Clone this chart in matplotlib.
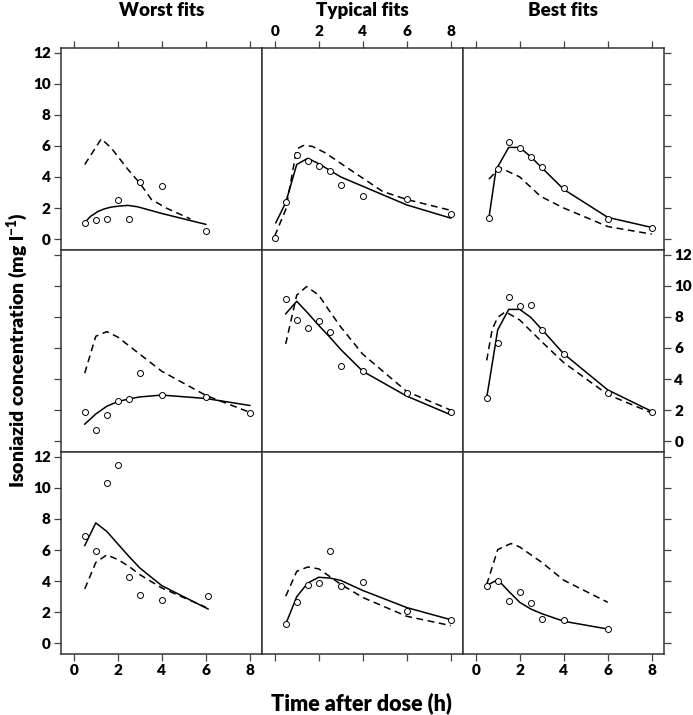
import matplotlib
matplotlib.use("Agg")
import matplotlib.pyplot as plt

plt.rcParams['font.family'] = ['Lato', 'DejaVu Sans']
plt.rcParams['mathtext.fontset'] = 'custom'
plt.rcParams['mathtext.bf'] = 'Lato:heavy'
plt.rcParams['mathtext.rm'] = 'Lato'

col_titles = ["Worst fits", "Typical fits", "Best fits"]
x_ticks = [0, 2, 4, 6, 8]
y_ticks = [0, 2, 4, 6, 8, 10, 12]

# row 1
r1c1_t = [0.5, 1, 1.5, 2, 2.5, 3, 4, 6]
r1c1_obs = [1.05, 1.2, 1.3, 2.5, 1.3, 3.65, 3.4, 0.55]
r1c1_fit_t = [0.5, 0.75, 1.1, 1.4, 1.7, 2.1, 2.47, 2.9, 4, 6]
r1c1_fit = [1.07, 1.45, 1.78, 1.95, 2.06, 2.13, 2.17, 2.08, 1.65, 0.95]
r1c1_pop_t = [0.5, 1.25, 1.7, 2.47, 3, 3.53, 4.2, 5.3]
r1c1_pop = [4.8, 6.45, 5.87, 4.47, 3.6, 2.55, 2.0, 1.3]

r1c2_t = [0, 0.5, 1, 1.5, 2, 2.5, 3, 4, 6, 8]
r1c2_obs = [0.1, 2.4, 5.4, 5.05, 4.7, 4.4, 3.45, 2.75, 2.6, 1.6]
r1c2_fit_t = [0.05, 0.5, 1, 1.5, 2, 3, 4, 6, 8]
r1c2_fit = [1.05, 2.35, 4.8, 5.2, 4.85, 4.0, 3.4, 2.2, 1.35]
r1c2_pop_t = [0, 0.5, 1, 1.3, 1.7, 2.3, 3.2, 4.9, 6, 8]
r1c2_pop = [0.2, 1.9, 5.8, 6.02, 5.97, 5.55, 4.68, 3.07, 2.55, 1.85]

r1c3_t = [0.6, 1, 1.5, 2, 2.5, 3, 4, 6, 8]
r1c3_obs = [1.35, 4.5, 6.25, 5.85, 5.27, 4.63, 3.28, 1.31, 0.71]
r1c3_fit_t = [0.6, 0.92, 1.5, 2, 2.5, 3, 4, 6, 8]
r1c3_fit = [1.35, 4.45, 5.9, 5.9, 5.3, 4.6, 3.2, 1.4, 0.75]
r1c3_pop_t = [0.6, 1.1, 2, 2.95, 4, 6, 8]
r1c3_pop = [3.86, 4.6, 4.0, 2.75, 2.0, 0.81, 0.32]

# row 2
r2c1_t = [0.5, 1, 1.5, 2, 2.5, 3, 4, 6, 8]
r2c1_obs = [1.9, 0.7, 1.67, 2.59, 2.71, 4.4, 2.95, 2.86, 1.79]
r2c1_fit_t = [0.5, 1, 1.5, 2, 2.5, 3, 4, 6, 8]
r2c1_fit = [1.1, 1.75, 2.25, 2.55, 2.72, 2.85, 2.97, 2.75, 2.3]
r2c1_pop_t = [0.5, 1, 1.5, 2, 2.5, 3, 4, 6, 8]
r2c1_pop = [4.38, 6.75, 7.05, 6.7, 6.15, 5.6, 4.5, 2.95, 1.86]

r2c2_t = [0.5, 1, 1.5, 2, 2.5, 3, 4, 6, 8]
r2c2_obs = [9.17, 7.78, 7.29, 7.76, 7.0, 4.85, 4.5, 3.1, 1.86]
r2c2_fit_t = [0.5, 1, 1.5, 2, 2.5, 3, 4, 6, 8]
r2c2_fit = [8.2, 9.0, 8.25, 7.45, 6.7, 5.9, 4.5, 2.9, 1.7]
r2c2_pop_t = [0.5, 1, 1.45, 2, 2.5, 3, 4, 6, 8]
r2c2_pop = [6.26, 9.4, 9.95, 9.4, 8.35, 7.35, 5.6, 3.2, 2.0]

r2c3_t = [0.5, 1, 1.5, 2, 2.5, 3, 4, 6, 8]
r2c3_obs = [2.8, 6.3, 9.25, 8.7, 8.76, 7.18, 5.62, 3.12, 1.9]
r2c3_fit_t = [0.5, 1, 1.5, 2, 2.5, 3, 4, 6, 8]
r2c3_fit = [2.8, 7.16, 8.48, 8.48, 7.97, 7.2, 5.62, 3.3, 1.92]
r2c3_pop_t = [0.5, 0.75, 1.0, 1.35, 2, 3, 4, 6, 8]
r2c3_pop = [5.2, 7.2, 7.97, 8.33, 7.8, 6.4, 5.06, 3.0, 1.82]

# row 3
r3c1_t = [0.5, 1, 1.5, 2, 2.5, 3, 4, 6.1]
r3c1_obs = [6.91, 5.97, 10.34, 11.5, 4.27, 3.09, 2.77, 3.03]
r3c1_fit_t = [0.5, 1, 1.5, 2, 2.5, 3, 4, 6.1]
r3c1_fit = [6.29, 7.75, 7.2, 6.4, 5.6, 4.85, 3.71, 2.21]
r3c1_pop_t = [0.5, 1, 1.5, 2, 2.5, 3, 4, 6]
r3c1_pop = [3.5, 5.2, 5.69, 5.39, 4.96, 4.42, 3.56, 2.32]

r3c2_t = [0.5, 1, 1.5, 2, 2.5, 3, 4, 6, 8]
r3c2_obs = [1.24, 2.64, 3.76, 3.88, 5.97, 3.71, 3.93, 2.1, 1.48]
r3c2_fit_t = [0.5, 1, 1.5, 2, 2.5, 3, 4, 6, 8]
r3c2_fit = [1.24, 3.0, 3.88, 4.25, 4.2, 4.05, 3.4, 2.3, 1.52]
r3c2_pop_t = [0.5, 1, 1.5, 2, 2.5, 3, 4, 6, 8]
r3c2_pop = [3.03, 4.63, 4.91, 4.79, 4.3, 3.8, 2.95, 1.74, 1.14]

r3c3_t = [0.5, 1, 1.5, 2, 2.5, 3, 4, 6]
r3c3_obs = [3.71, 3.99, 2.75, 3.33, 2.62, 1.59, 1.52, 0.92]
r3c3_fit_t = [0.5, 1, 1.5, 2, 2.5, 3, 4, 6]
r3c3_fit = [3.71, 4.1, 3.35, 2.64, 2.21, 1.91, 1.42, 0.92]
r3c3_pop_t = [0.5, 1, 1.6, 2, 3, 4, 6]
r3c3_pop = [3.78, 6.03, 6.42, 6.2, 5.21, 4.06, 2.64]

panels = [
    [(r1c1_t, r1c1_obs, r1c1_fit_t, r1c1_fit, r1c1_pop_t, r1c1_pop),
     (r1c2_t, r1c2_obs, r1c2_fit_t, r1c2_fit, r1c2_pop_t, r1c2_pop),
     (r1c3_t, r1c3_obs, r1c3_fit_t, r1c3_fit, r1c3_pop_t, r1c3_pop)],
    [(r2c1_t, r2c1_obs, r2c1_fit_t, r2c1_fit, r2c1_pop_t, r2c1_pop),
     (r2c2_t, r2c2_obs, r2c2_fit_t, r2c2_fit, r2c2_pop_t, r2c2_pop),
     (r2c3_t, r2c3_obs, r2c3_fit_t, r2c3_fit, r2c3_pop_t, r2c3_pop)],
    [(r3c1_t, r3c1_obs, r3c1_fit_t, r3c1_fit, r3c1_pop_t, r3c1_pop),
     (r3c2_t, r3c2_obs, r3c2_fit_t, r3c2_fit, r3c2_pop_t, r3c2_pop),
     (r3c3_t, r3c3_obs, r3c3_fit_t, r3c3_fit, r3c3_pop_t, r3c3_pop)],
]

fig, axes = plt.subplots(3, 3, figsize=(6.93, 7.15), dpi=100, sharex=True, sharey=True)
fig.subplots_adjust(left=0.088, right=0.958, top=0.933, bottom=0.085, wspace=0, hspace=0)

for r in range(3):
    for c in range(3):
        ax = axes[r, c]
        t, obs, ft, fit, pt, pop = panels[r][c]
        ax.plot(ft, fit, color='black', lw=1.1)
        ax.plot(pt, pop, color='black', lw=1.1, linestyle=(0, (4.5, 3)))
        ax.plot(t, obs, 'o', mfc='white', mec='black', ms=4.3, mew=0.7)

        ax.set_xlim(-0.58, 8.55)
        ax.set_ylim(-0.7, 12.3)
        ax.set_xticks(x_ticks)
        ax.set_yticks(y_ticks)
        for sp in ax.spines.values():
            sp.set_color('#333333')
            sp.set_linewidth(1.1)

        ax.tick_params(direction='out', length=5, width=0.9, color='#444444',
                       top=(r == 0), bottom=(r == 2), left=(c == 0), right=(c == 2),
                       labeltop=(r == 0 and c == 1),
                       labelbottom=(r == 2 and c != 1),
                       labelleft=(c == 0 and r != 1),
                       labelright=(c == 2 and r == 1))
        ax.tick_params(axis='x', pad=2)
        ax.tick_params(axis='y', pad=2.5)
        for lab in ax.get_xticklabels() + ax.get_yticklabels():
            lab.set_fontsize(11)
            lab.set_fontweight('heavy')

# column headings
for c in range(3):
    pos = axes[0, c].get_position()
    fig.text((pos.x0 + pos.x1) / 2, 0.985, col_titles[c], ha='center', va='center',
             fontsize=13.5, fontweight='heavy')

fig.text(0.026, 0.51, "Isoniazid concentration (mg l$^{\\mathbf{-1}}$)", rotation=90,
         ha='center', va='center', fontsize=14, fontweight='heavy')
fig.text(0.522, 0.017, "Time after dose (h)", ha='center', va='center',
         fontsize=15.5, fontweight='heavy')

fig.savefig("out.png", dpi=100)
